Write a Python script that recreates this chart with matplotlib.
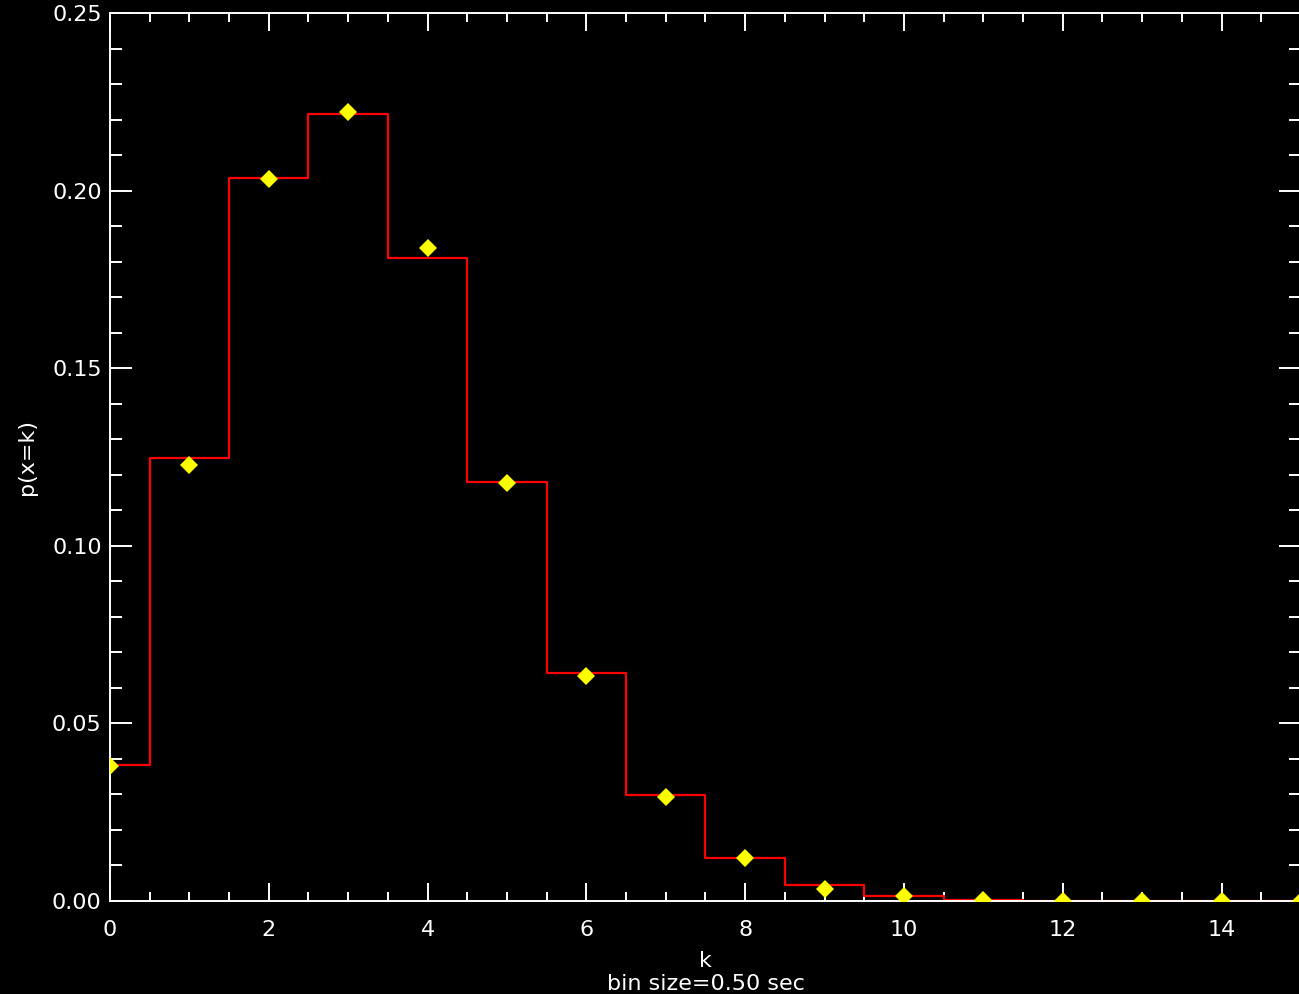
import matplotlib
matplotlib.use("Agg")
import matplotlib.pyplot as plt
from matplotlib.ticker import MultipleLocator, FormatStrFormatter

# Observed frequencies per count k (histogram) and expected Poisson probabilities
k = [0, 1, 2, 3, 4, 5, 6, 7, 8, 9, 10, 11, 12, 13, 14, 15]
observed = [0.0382, 0.1247, 0.2036, 0.2216, 0.1809, 0.1179, 0.0641, 0.0298,
            0.0121, 0.0045, 0.0015, 0.0002, 0.0, 0.0, 0.0, 0.0]
expected = [0.0380, 0.1227, 0.2032, 0.2222, 0.1838, 0.1177, 0.0634, 0.0292,
            0.0121, 0.0034, 0.0013, 0.0003, 0.0001, 0.0, 0.0, 0.0]

plt.rcParams['font.family'] = ['DejaVu Sans']

fig = plt.figure(figsize=(12.99, 9.94), dpi=100, facecolor='black')
ax = fig.add_axes([110 / 1299, 1 - 901 / 994, 1191 / 1299, 888 / 994])
ax.set_facecolor('black')

ax.step(k, observed, where='mid', color='#ff0000', lw=1.6, zorder=2)
ax.plot(k, expected, linestyle='none', marker='D', markersize=9.5,
        markerfacecolor='#ffff00', markeredgewidth=0, zorder=3)

ax.set_xlim(0, 15)
ax.set_ylim(0, 0.25)

ax.xaxis.set_major_locator(MultipleLocator(2))
ax.xaxis.set_minor_locator(MultipleLocator(0.5))
ax.yaxis.set_major_locator(MultipleLocator(0.05))
ax.yaxis.set_minor_locator(MultipleLocator(0.01))
ax.yaxis.set_major_formatter(FormatStrFormatter('%.2f'))
ax.xaxis.set_major_formatter(FormatStrFormatter('%d'))

for s in ax.spines.values():
    s.set_color('white')
    s.set_linewidth(1.4)

ax.tick_params(axis='both', which='both', direction='in', colors='white',
               width=1.4, labelsize=16, top=True, right=True)
ax.tick_params(axis='x', which='major', length=13, pad=14)
ax.tick_params(axis='x', which='minor', length=6.5)
ax.tick_params(axis='y', which='major', length=16, pad=6)
ax.tick_params(axis='y', which='minor', length=8.5)

ax.set_xlabel('k\nbin size=0.50 sec', color='white', fontsize=16,
              linespacing=1.2)
ax.xaxis.set_label_coords(0.5, -0.0805, transform=ax.transAxes)
ax.xaxis.label.set_verticalalignment('center')
ax.set_ylabel('p(x=k)', color='white', fontsize=16)
ax.yaxis.set_label_coords(-73 / 1191, 0.5)

fig.savefig('out.png', dpi=100, facecolor='black')
